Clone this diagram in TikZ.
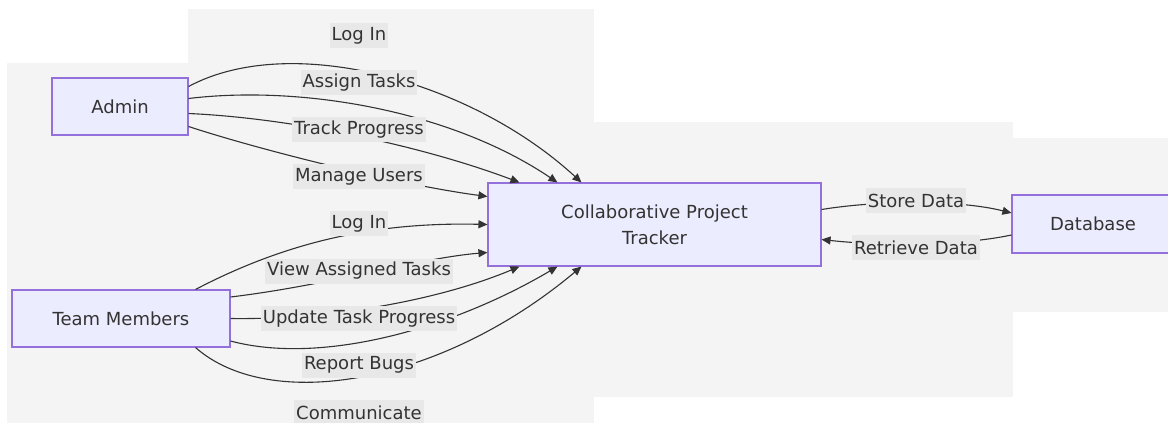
\documentclass[tikz,border=0pt]{standalone}
\usepackage{fontspec}
\setmainfont{DejaVu Sans}
\usepackage{tikz}
\usetikzlibrary{arrows.meta,calc}

\definecolor{nodefill}{HTML}{ECECFF}
\definecolor{nodeline}{HTML}{9370DB}
\definecolor{inkgrey}{HTML}{333333}
\definecolor{panegrey}{HTML}{F4F4F4}
\definecolor{tagfill}{HTML}{E8E8E8}

\begin{document}
\begin{tikzpicture}[
            x=1pt, y=-1pt,
            % Style for the boxes
            box/.style={
                draw=nodeline,
                fill=nodefill,
                line width=1.1pt,
                minimum height=57pt,
                inner sep=0pt,
                text=inkgrey,
                align=center,
                font=\fontsize{18}{26}\selectfont
            },
            % Style for the edge labels
            tag/.style={
                fill=tagfill,
                text=inkgrey,
                inner xsep=2pt,
                inner ysep=0pt,
                minimum height=25pt,
                font=\fontsize{18}{20}\selectfont
            },
            % Style for the arrows
            flow/.style={
                draw=inkgrey,
                line width=1.1pt,
                -{Triangle[length=9pt,width=8pt]}
            }
        ]
            \useasboundingbox (0,0) rectangle (1168,423);

            % GREY BACKGROUND
            \fill[panegrey] (188,9) rectangle (594,423);
            \fill[panegrey] (7,63) rectangle (594,423);
            \fill[panegrey] (594,122) rectangle (1013,397);
            \fill[panegrey] (1013,138) rectangle (1168,312);

            % BOXES
            \node[box, minimum width=136pt] (admin) at (120,106.5) {Admin};
            \node[box, minimum width=218pt] (team) at (121,318.5) {Team Members};
            \node[box, minimum width=333pt, minimum height=83pt] (tracker) at (654.5,224.5) {Collaborative Project\\Tracker};
            \node[box, minimum width=162pt, minimum height=58pt] (db) at (1093,224) {Database};

            % ADMIN -> TRACKER
            \draw[flow] ($(admin.east)+(0,-20)$) .. controls (290,32) and (470,80) .. ($(tracker.north west)+(94,0)$);
            \draw[flow] ($(admin.east)+(0,-8)$) .. controls (300,85) and (450,110) .. ($(tracker.north west)+(70,0)$);
            \draw[flow] ($(admin.east)+(0,7)$) .. controls (290,118) and (420,145) .. ($(tracker.north west)+(32,0)$);
            \draw[flow] ($(admin.east)+(0,20)$) .. controls (260,150) and (400,185) .. ($(tracker.west)+(0,-28)$);

            % TEAM MEMBERS -> TRACKER
            \draw[flow] ($(team.north east)+(-35,0)$) .. controls (290,240) and (380,222) .. (tracker.west);
            \draw[flow] ($(team.east)+(0,-21.5)$) .. controls (330,285) and (420,258) .. ($(tracker.west)+(0,28)$);
            \draw[flow] (team.east) .. controls (330,320) and (440,300) .. ($(tracker.south west)+(32,0)$);
            \draw[flow] ($(team.east)+(0,22.5)$) .. controls (320,365) and (450,330) .. ($(tracker.south west)+(70,0)$);
            \draw[flow] ($(team.south east)+(-35,0)$) .. controls (270,413) and (440,385) .. ($(tracker.south west)+(94,0)$);

            % TRACKER <-> DATABASE
            \draw[flow] ($(tracker.east)+(0,-15)$) .. controls (880,200) and (960,200) .. ($(db.west)+(0,-11)$);
            \draw[flow] ($(db.west)+(0,11)$) .. controls (960,246) and (880,246) .. ($(tracker.east)+(0,15)$);

            % EDGE LABELS
            \node[tag] (tLogA) at (359,35.5) {Log In};
            \node[tag] (tAssign) at (359,82.6) {Assign Tasks};
            \node[tag] (tTrack) at (359,129.7) {Track Progress};
            \node[tag] (tManage) at (359,176.8) {Manage Users};
            \node[tag] (tLogB) at (359,223.9) {Log In};
            \node[tag] (tView) at (359,271) {View Assigned Tasks};
            \node[tag] (tUpdate) at (359,318.1) {Update Task Progress};
            \node[tag] (tBugs) at (359,365.2) {Report Bugs};
            \node[tag] (tTalk) at (359,412.3) {Communicate};
            \node[tag] (tStore) at (916,200.5) {Store Data};
            \node[tag] (tFetch) at (916,247.5) {Retrieve Data};

        \end{tikzpicture}
\end{document}
